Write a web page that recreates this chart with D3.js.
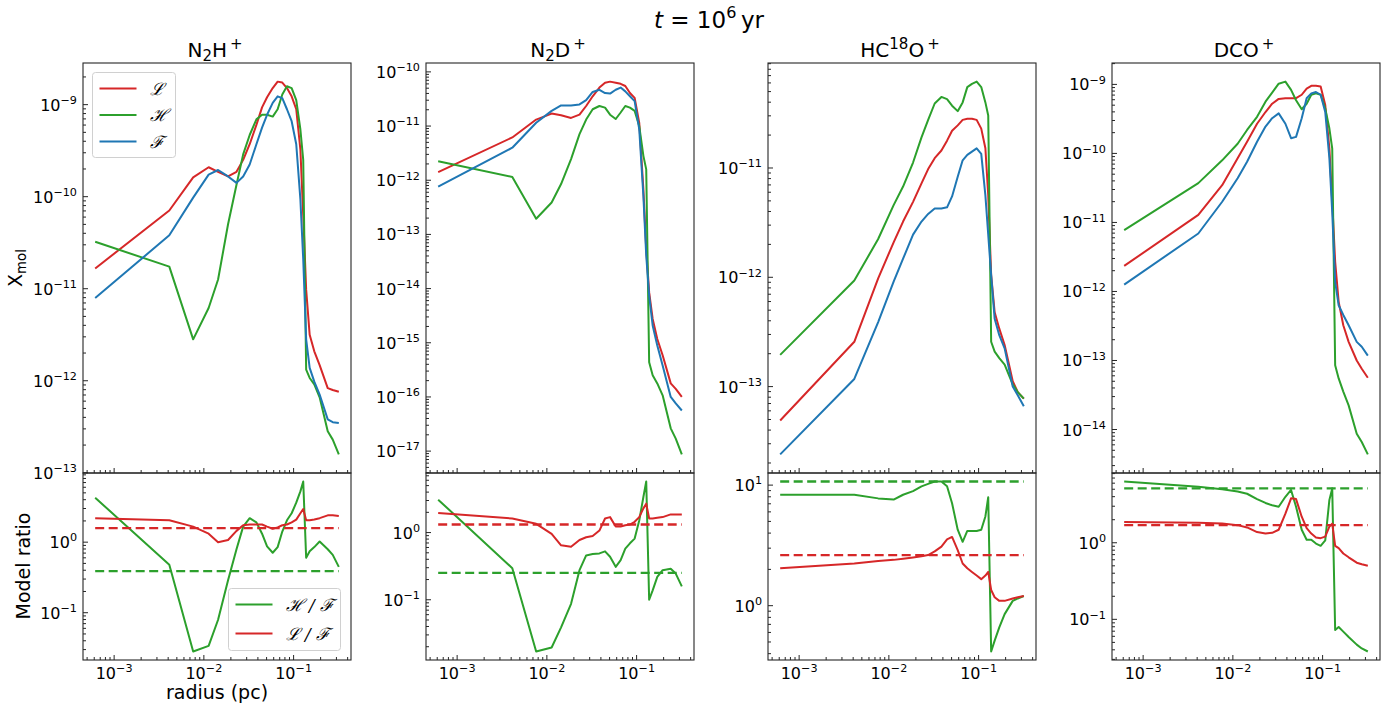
<!DOCTYPE html>
<html lang="en">
<head>
<meta charset="UTF-8">
<title>t = 10^6 yr</title>
<script src="https://cdn.jsdelivr.net/npm/d3@7"></script>
<style>
  body { margin: 0; background: #fff; }
  svg { display: block; font-family: "DejaVu Sans", sans-serif; }
  .spine { fill: none; stroke: #262626; stroke-width: 1.1; }
  .tk { stroke: #262626; stroke-width: 1; }
  .curve { fill: none; stroke-width: 2; stroke-linejoin: round; }
</style>
</head>
<body>
<div id="chart"></div>
<script>
// radial grid (pc), shared by every curve
const radius = [6.15e-4, 4.12e-3, 7.6e-3, 1.13e-2, 1.44e-2, 1.86e-2, 2.31e-2, 2.74e-2, 3.24e-2,
  3.85e-2, 4.45e-2, 5.06e-2, 5.85e-2, 6.64e-2, 7.48e-2, 8.43e-2, 9.51e-2, 0.107, 0.119,
  0.128, 0.138, 0.151, 0.170, 0.195, 0.240, 0.273, 0.319];

// abundances, stored as log10(X_mol)
const n2hpL = [-10.78, -10.15, -9.79, -9.68, -9.73, -9.78, -9.73, -9.60, -9.43, -9.22, -9.03, -8.92, -8.82, -8.75, -8.76, -8.82, -8.91, -9.05, -9.49, -10.20, -11.01, -11.50, -11.68, -11.83, -12.08, -12.10, -12.12];
const n2hpH = [-10.49, -10.76, -11.55, -11.21, -10.90, -10.30, -9.87, -9.54, -9.33, -9.16, -9.11, -9.11, -9.13, -9.05, -8.89, -8.80, -8.82, -8.95, -9.27, -9.60, -11.88, -11.97, -12.04, -12.18, -12.55, -12.64, -12.80];
const n2hpF = [-11.10, -10.42, -10.01, -9.76, -9.71, -9.78, -9.85, -9.78, -9.65, -9.43, -9.25, -9.11, -8.98, -8.91, -8.93, -9.05, -9.18, -9.43, -10.03, -10.68, -11.55, -11.86, -12.01, -12.15, -12.42, -12.45, -12.46];

const n2dpL = [-11.85, -11.21, -10.88, -10.77, -10.80, -10.85, -10.79, -10.63, -10.45, -10.29, -10.20, -10.18, -10.20, -10.22, -10.26, -10.39, -10.48, -10.94, -12.17, -13.27, -14.07, -14.56, -14.93, -15.23, -15.75, -15.85, -16.00];
const n2dpH = [-11.65, -11.94, -12.71, -12.41, -12.07, -11.61, -11.15, -10.88, -10.69, -10.63, -10.66, -10.79, -10.87, -10.75, -10.63, -10.66, -10.72, -11.00, -11.55, -11.80, -15.36, -15.60, -15.75, -15.97, -16.58, -16.77, -17.06];
const n2dpF = [-12.12, -11.40, -10.94, -10.72, -10.62, -10.62, -10.60, -10.52, -10.37, -10.33, -10.39, -10.40, -10.33, -10.29, -10.36, -10.45, -10.54, -11.06, -12.29, -13.39, -14.13, -14.68, -15.05, -15.42, -16.00, -16.12, -16.25];

const hc18opL = [-13.31, -12.59, -12.01, -11.68, -11.49, -11.31, -11.14, -11.01, -10.91, -10.84, -10.75, -10.66, -10.61, -10.56, -10.55, -10.55, -10.56, -10.64, -10.82, -11.25, -11.98, -12.32, -12.47, -12.62, -12.95, -13.05, -13.11];
const hc18opH = [-12.71, -12.03, -11.65, -11.34, -11.17, -10.95, -10.72, -10.56, -10.41, -10.35, -10.37, -10.43, -10.48, -10.40, -10.26, -10.23, -10.21, -10.26, -10.40, -10.52, -12.59, -12.68, -12.74, -12.80, -12.98, -13.05, -13.11];
const hc18opF = [-13.62, -12.93, -12.41, -12.04, -11.83, -11.61, -11.49, -11.42, -11.37, -11.37, -11.36, -11.26, -11.08, -10.93, -10.88, -10.85, -10.82, -10.87, -11.25, -11.61, -11.98, -12.38, -12.53, -12.65, -13.00, -13.08, -13.18];

const dcopL = [-11.63, -10.89, -10.46, -10.07, -9.83, -9.57, -9.40, -9.28, -9.21, -9.20, -9.20, -9.20, -9.15, -9.06, -9.02, -9.02, -9.03, -9.30, -9.93, -10.70, -11.57, -12.15, -12.49, -12.73, -13.00, -13.12, -13.25];
const dcopH = [-11.11, -10.43, -10.10, -9.86, -9.66, -9.47, -9.25, -9.12, -8.99, -8.96, -9.08, -9.23, -9.36, -9.28, -9.15, -9.13, -9.15, -9.35, -9.64, -9.93, -13.07, -13.26, -13.45, -13.65, -14.06, -14.18, -14.36];
const dcopF = [-11.90, -11.16, -10.70, -10.36, -10.12, -9.83, -9.61, -9.49, -9.42, -9.57, -9.78, -9.76, -9.49, -9.20, -9.13, -9.11, -9.15, -9.40, -10.07, -10.85, -11.86, -12.20, -12.34, -12.49, -12.73, -12.80, -12.93];

// model ratios, log10
const n2hpHF = [0.63, -0.32, -1.55, -1.47, -1.10, -0.54, -0.10, 0.22, 0.34, 0.28, 0.12, -0.06, -0.15, -0.07, 0.15, 0.31, 0.41, 0.56, 0.72, 0.86, -0.22, -0.13, -0.07, 0.01, -0.10, -0.18, -0.35];
const n2hpLF = [0.34, 0.31, 0.22, 0.12, 0.00, 0.03, 0.16, 0.24, 0.25, 0.25, 0.25, 0.22, 0.19, 0.21, 0.24, 0.25, 0.28, 0.32, 0.41, 0.47, 0.31, 0.31, 0.32, 0.34, 0.38, 0.38, 0.37];
const n2dpHF = [0.49, -0.53, -1.77, -1.71, -1.41, -1.06, -0.56, -0.34, -0.32, -0.31, -0.28, -0.36, -0.51, -0.41, -0.24, -0.16, -0.09, 0.18, 0.53, 0.76, -1.00, -0.86, -0.66, -0.56, -0.54, -0.61, -0.80];
const n2dpLF = [0.29, 0.21, 0.13, -0.02, -0.19, -0.21, -0.11, -0.07, -0.05, 0.03, 0.21, 0.23, 0.09, 0.09, 0.11, 0.12, 0.16, 0.23, 0.36, 0.43, 0.21, 0.21, 0.22, 0.23, 0.27, 0.27, 0.27];
const hc18opHF = [0.92, 0.92, 0.89, 0.88, 0.92, 0.95, 0.99, 1.01, 1.03, 1.03, 0.99, 0.85, 0.63, 0.53, 0.62, 0.62, 0.62, 0.63, 0.74, 0.90, -0.38, -0.29, -0.18, -0.07, 0.04, 0.06, 0.08];
const hc18opLF = [0.31, 0.35, 0.37, 0.38, 0.39, 0.40, 0.41, 0.42, 0.45, 0.49, 0.55, 0.57, 0.46, 0.35, 0.31, 0.28, 0.25, 0.22, 0.25, 0.28, 0.13, 0.07, 0.04, 0.04, 0.06, 0.07, 0.08];
const dcopHF = [0.80, 0.73, 0.70, 0.67, 0.64, 0.57, 0.52, 0.49, 0.47, 0.60, 0.69, 0.47, 0.17, 0.04, 0.04, -0.01, -0.04, 0.03, 0.56, 0.71, -1.14, -1.10, -1.16, -1.23, -1.33, -1.38, -1.42];
const dcopLF = [0.27, 0.26, 0.25, 0.23, 0.20, 0.14, 0.12, 0.13, 0.17, 0.38, 0.58, 0.57, 0.34, 0.19, 0.12, 0.07, 0.06, 0.08, 0.21, 0.25, -0.04, -0.07, -0.14, -0.19, -0.26, -0.28, -0.30];

// dashed reference ratios, log10
const dashHF = [-0.41, -0.60, 1.03, 0.71];
const dashLF = [0.20, 0.12, 0.42, 0.23];

// titles as [text, shift] pieces
const titles = [
  [["N"], ["2", "sub"], ["H"], ["\u2009+", "sup"]],
  [["N"], ["2", "sub"], ["D"], ["\u2009+", "sup"]],
  [["HC"], ["18", "sup"], ["O"], ["\u2009+", "sup"]],
  [["DCO"], ["\u2009+", "sup"]]
];
const modelNames = ["\u2112", "\u210B", "\u2131"];   // script L, H, F

const colors = { L: "#d62728", H: "#2ca02c", F: "#1f77b4" };

const panels = [
  { L: n2hpL, H: n2hpH, F: n2hpF, HF: n2hpHF, LF: n2hpLF },
  { L: n2dpL, H: n2dpH, F: n2dpF, HF: n2dpHF, LF: n2dpLF },
  { L: hc18opL, H: hc18opH, F: hc18opF, HF: hc18opHF, LF: hc18opLF },
  { L: dcopL, H: dcopH, F: dcopF, HF: dcopHF, LF: dcopLF }
];

const W = 1395, H = 709;
const lefts = [83, 426, 768, 1112];
const pw = 268;
const topY = 63, midY = 473, botY = 660;

const svg = d3.select('#chart').append('svg').attr('width', W).attr('height', H);

function rich(sel, parts, size, scale) {
  scale = scale || 0.7;
  let off = 0;
  parts.forEach(p => {
    let target = p[1] === 'sup' ? -0.42 * size : p[1] === 'sub' ? 0.22 * size : 0;
    const t = sel.append('tspan').text(p[0]).attr('dy', target - off);
    if (p[1]) t.attr('font-size', size * scale);
    if (p[2]) t.attr('font-style', p[2]);
    off = target;
  });
}

function expParts(n) {
  return [["10"], [(n < 0 ? "\u2212" : "") + Math.abs(n), "sup"]];
}

// 5% padding in log space, like matplotlib autoscale
function padDomain(arrs) {
  const lo = d3.min(arrs, a => d3.min(a)), hi = d3.max(arrs, a => d3.max(a));
  const p = 0.05 * (hi - lo);
  return [10 ** (lo - p), 10 ** (hi + p)];
}

function logTicks(domain) {
  const a = Math.log10(domain[0]), b = Math.log10(domain[1]);
  const major = [], minor = [];
  for (let n = Math.floor(a); n <= Math.ceil(b); n++) {
    if (n >= a - 1e-9 && n <= b + 1e-9) major.push(n);
    for (let k = 2; k <= 9; k++) {
      const v = Math.log10(k) + n;
      if (v >= a && v <= b) minor.push(10 ** v);
    }
  }
  return { major, minor };
}

const logR = radius.map(Math.log10);
const xDom = padDomain([logR]);

panels.forEach((p, i) => {
  const g = svg.append('g').attr('transform', `translate(${lefts[i]},0)`);
  const x = d3.scaleLog().domain(xDom).range([0, pw]);
  const yTop = d3.scaleLog().domain(padDomain([p.L, p.H, p.F])).range([midY, topY]);
  const yBot = d3.scaleLog().domain(padDomain([p.HF, p.LF, [dashHF[i], dashLF[i]]])).range([botY, midY]);

  // abundance curves
  ['L', 'H', 'F'].forEach(k => {
    const line = d3.line().x((d, j) => x(radius[j])).y(d => yTop(10 ** d));
    g.append('path').attr('class', 'curve').attr('stroke', colors[k]).attr('d', line(p[k]));
  });

  // ratio curves
  const rline = d3.line().x((d, j) => x(radius[j])).y(d => yBot(10 ** d));
  g.append('path').attr('class', 'curve').attr('stroke', colors.H).attr('d', rline(p.HF));
  g.append('path').attr('class', 'curve').attr('stroke', colors.L).attr('d', rline(p.LF));
  [[dashHF[i], colors.H], [dashLF[i], colors.L]].forEach(([v, c]) => {
    g.append('line')
      .attr('x1', x(radius[0])).attr('x2', x(radius[radius.length - 1]))
      .attr('y1', yBot(10 ** v)).attr('y2', yBot(10 ** v))
      .attr('stroke', c).attr('stroke-width', 2.3).attr('stroke-dasharray', '9,4.5');
  });

  // x ticks, pointing inward, on both panels
  const xt = logTicks(xDom);
  [midY, botY].forEach(yy => {
    xt.major.forEach(n => g.append('line').attr('class', 'tk')
      .attr('x1', x(10 ** n)).attr('x2', x(10 ** n)).attr('y1', yy).attr('y2', yy - 5));
    xt.minor.forEach(v => g.append('line').attr('class', 'tk')
      .attr('x1', x(v)).attr('x2', x(v)).attr('y1', yy).attr('y2', yy - 3));
  });
  xt.major.forEach(n => {
    const t = g.append('text').attr('x', x(10 ** n)).attr('y', 679)
      .attr('text-anchor', 'middle').attr('font-size', 16);
    rich(t, expParts(n), 16);
  });

  // y ticks for each panel
  [yTop, yBot].forEach(y => {
    const yt = logTicks(y.domain());
    yt.minor.forEach(v => g.append('line').attr('class', 'tk')
      .attr('x1', 0).attr('x2', 3).attr('y1', y(v)).attr('y2', y(v)));
    yt.major.forEach(n => {
      g.append('line').attr('class', 'tk')
        .attr('x1', 0).attr('x2', 5).attr('y1', y(10 ** n)).attr('y2', y(10 ** n));
      const t = g.append('text').attr('x', -6).attr('y', y(10 ** n) + 6)
        .attr('text-anchor', 'end').attr('font-size', 16);
      rich(t, expParts(n), 16);
    });
  });

  // frames
  g.append('rect').attr('class', 'spine').attr('x', 0).attr('y', topY).attr('width', pw).attr('height', midY - topY);
  g.append('rect').attr('class', 'spine').attr('x', 0).attr('y', midY).attr('width', pw).attr('height', botY - midY);

  // panel title
  const tt = g.append('text').attr('x', pw / 2 - 2).attr('y', 57)
    .attr('text-anchor', 'middle').attr('font-size', 20);
  rich(tt, titles[i], 20, 0.75);
});

// legends in the first column
function legend(x0, y0, w, h, items, yStep) {
  const lg = svg.append('g');
  lg.append('rect').attr('x', x0).attr('y', y0).attr('width', w).attr('height', h)
    .attr('rx', 3).attr('fill', 'white').attr('fill-opacity', 0.8)
    .attr('stroke', '#d0d0d0').attr('stroke-width', 1);
  items.forEach((it, j) => {
    const yy = y0 + 16 + j * yStep;
    lg.append('line').attr('x1', x0 + 7).attr('x2', x0 + 44).attr('y1', yy).attr('y2', yy)
      .attr('stroke', it.color).attr('stroke-width', 2);
    lg.append('text').attr('x', x0 + 57).attr('y', yy + 6).attr('font-size', 17)
      .attr('font-family', 'DejaVu Serif').attr('font-style', 'italic').text(it.label);
  });
}
legend(92.5, 72.5, 83, 85, [
  { label: modelNames[0], color: colors.L },
  { label: modelNames[1], color: colors.H },
  { label: modelNames[2], color: colors.F }
], 26.5);
legend(228.5, 588.5, 112, 62, [
  { label: modelNames[1] + " / " + modelNames[2], color: colors.H },
  { label: modelNames[0] + " / " + modelNames[2], color: colors.L }
], 29);

// axis labels
const yl = svg.append('text').attr('transform', 'translate(22,268) rotate(-90)')
  .attr('text-anchor', 'middle').attr('font-size', 19);
rich(yl, [["X"], ["mol", "sub"]], 19);
svg.append('text').attr('transform', 'translate(30,566) rotate(-90)')
  .attr('text-anchor', 'middle').attr('font-size', 19).text('Model ratio');
svg.append('text').attr('x', 217).attr('y', 699)
  .attr('text-anchor', 'middle').attr('font-size', 19).text('radius (pc)');

// figure title
const st = svg.append('text').attr('x', 709).attr('y', 28)
  .attr('text-anchor', 'middle').attr('font-size', 23);
rich(st, [["t", null, "italic"], [" = 10"], ["6", "sup"], ["\u2009yr"]], 23);
</script>
</body>
</html>
